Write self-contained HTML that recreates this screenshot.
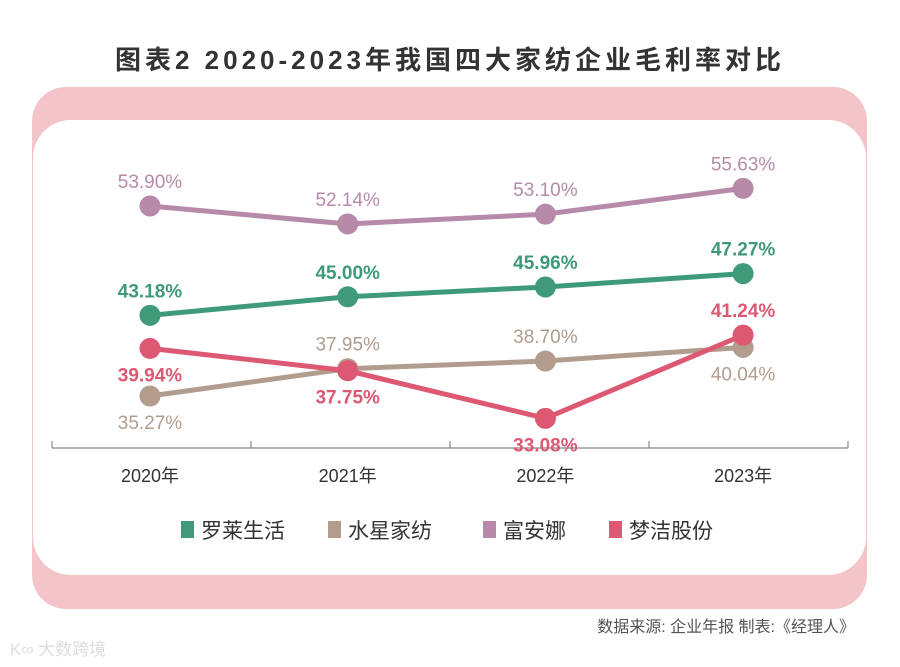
<!DOCTYPE html>
<html><head><meta charset="utf-8">
<style>
body{margin:0;width:900px;height:662px;background:#fff;overflow:hidden;font-family:"Liberation Sans","Noto Sans CJK SC",sans-serif;}
</style></head>
<body>
<svg width="900" height="662" id="svg">
<text x="450" y="69" text-anchor="middle" font-size="26" font-weight="bold" fill="#333" letter-spacing="4" font-family="Liberation Sans, Noto Sans CJK SC, sans-serif">图表2  2020-2023年我国四大家纺企业毛利率对比</text>
<rect x="32" y="87" width="835" height="522" rx="34" fill="#f3c5c9"/>
<rect x="33" y="120" width="833" height="455" rx="38" fill="#fff"/>
<g id="axis"></g>
<g id="marks"></g>
<g id="legend"></g>
<text x="855" y="632" text-anchor="end" font-size="16" fill="#555">数据来源: 企业年报  制表:《经理人》</text>
<text x="10" y="655" font-size="17" fill="#ddd">K∞ 大数跨境</text>
</svg>
<script>
const categories=["2020年","2021年","2022年","2023年"];
const seriesNames=["罗莱生活","水星家纺","富安娜","梦洁股份"];
const luolai=[43.18,45.00,45.96,47.27];
const shuixing=[35.27,37.95,38.70,40.04];
const fuanna=[53.90,52.14,53.10,55.63];
const mengjie=[39.94,37.75,33.08,41.24];
const colors=["#3e9a78","#b29c8e","#b68aa8","#dc5873"];
const labelPos=[[-1,-1,-1,-1],[1,-1,-1,1],[-1,-1,-1,-1],[1,1,1,-1]];
const NS="http://www.w3.org/2000/svg";
const svg=document.getElementById('svg');
function xS(i){return 150+i*197.7;}
function yS(v){return 206+(53.9-v)*10.2;}
function mk(t,a,p){const e=document.createElementNS(NS,t);for(const k in a)e.setAttribute(k,a[k]);p.appendChild(e);return e;}
const ax=document.getElementById('axis');
mk('line',{x1:52,y1:448,x2:848,y2:448,stroke:'#888','stroke-width':1.2},ax);
for(let i=0;i<=4;i++){const x=52+i*199;mk('line',{x1:x,y1:441,x2:x,y2:448,stroke:'#888','stroke-width':1.2},ax);}
categories.forEach((c,i)=>{const t=mk('text',{x:xS(i),y:482,'text-anchor':'middle','font-size':18,fill:'#333'},ax);t.textContent=c;

});
const all=[luolai,shuixing,fuanna,mengjie];
const marks=document.getElementById('marks');
const order=[2,0,1,3];
order.forEach(s=>{const data=all[s];const g=mk('g',{},marks);


const pts=data.map((v,i)=>xS(i)+','+yS(v)).join(' ');
const pl=mk('polyline',{points:pts,fill:'none',stroke:colors[s],'stroke-width':5,'stroke-linejoin':'round'},g);


data.forEach((v,i)=>{const c=mk('circle',{cx:xS(i),cy:yS(v),r:10.5,fill:colors[s]},g);


const d=labelPos[s][i];const t=mk('text',{x:xS(i),y:yS(v)+(d<0?-18:33),'text-anchor':'middle','font-size':19,fill:colors[s],'font-weight':s==0||s==3?'bold':'normal'},g);
t.textContent=v.toFixed(2)+'%';

});
});
const lg=document.getElementById('legend');
const lx=[181,328,483,609];
seriesNames.forEach((n,i)=>{const g=mk('g',{},lg);


mk('rect',{x:lx[i],y:521,width:13,height:17,fill:colors[i]},g);
const t=mk('text',{x:lx[i]+20,y:538,'font-size':21,fill:'#333'},g);t.textContent=n;});
</script>
</body></html>
